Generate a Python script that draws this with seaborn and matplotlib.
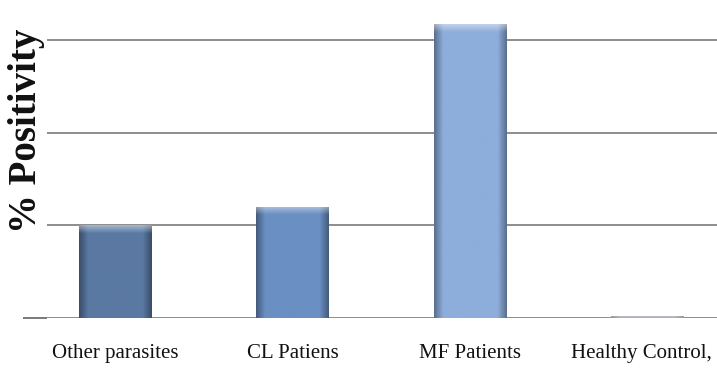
import numpy as np
import matplotlib
matplotlib.use("Agg")
import matplotlib.pyplot as plt
import matplotlib.colors as mcolors
import matplotlib.transforms as mtransforms
import seaborn as sns
import pandas as pd

# Percentage of positive samples per group
groups = ["Other parasites", "CL Patiens", "MF Patients", "Healthy Control,"]
positivity = [20, 24, 63.5, 0.4]
bar_colors = ["#5a79a2", "#6a8fc2", "#8daddb", "#7f8894"]
grid_levels = [0, 20, 40, 60]

sns.set_theme(style="white")
plt.rcParams["font.family"] = ["Liberation Serif", "DejaVu Serif"]

df = pd.DataFrame({"group": groups, "positivity": positivity})

fig = plt.figure(figsize=(7.17, 3.68), dpi=100)
ax = fig.add_axes([47 / 717, 50 / 368, 1 - 47 / 717, 318 / 368])

sns.barplot(data=df, x="group", y="positivity", hue="group",
            palette=bar_colors, legend=False, width=0.41, ax=ax,
            saturation=1, edgecolor="none", zorder=3)

# Soft bevel shading on each bar
for patch, col in zip(ax.patches, bar_colors):
    x0, y0 = patch.get_x(), patch.get_y()
    w, h = patch.get_width(), patch.get_height()
    if h <= 0:
        continue
    base = np.array(mcolors.to_rgb(col))
    nx, ny = 60, 120
    u = np.linspace(0, 1, nx)
    side = np.clip(1 - np.minimum(u, 1 - u) / 0.12, 0, 1)
    shade = 1 - 0.35 * side
    img = np.ones((ny, nx, 3)) * base
    img *= shade[None, :, None]
    # lighter rim at top
    v = np.linspace(0, 1, ny)
    top_px = 8 / (h / 68.5 * 318)
    topband = np.clip(1 - (1 - v) / max(top_px, 1e-3), 0, 1)
    img = img + (1 - img) * 0.45 * topband[:, None, None]
    img = np.clip(img, 0, 1)
    im = ax.imshow(img, extent=[x0, x0 + w, y0, y0 + h], origin="lower",
                   aspect="auto", zorder=4, interpolation="bilinear")
    im.set_clip_path(patch)

ax.set_xlim(-0.385, 3.39)
ax.set_ylim(0, 68.6)

ax.set_yticks(grid_levels)
ax.set_yticklabels([])
ax.yaxis.remove_overlapping_locs = False
ax.set_yticks([0], minor=True)
ax.tick_params(axis="y", which="major", length=0)
ax.tick_params(axis="y", which="minor", length=17, width=1.4, pad=2,
               color="#7a7a7a", left=True)
ax.yaxis.grid(True, color="#858585", linewidth=1.3, zorder=0)
ax.xaxis.grid(False)
ax.set_axisbelow(True)
for s in ax.spines.values():
    s.set_visible(False)

ax.tick_params(axis="x", length=0, pad=19, labelsize=15, labelcolor="#111111")
# keep the last category label inside the right edge
last = ax.get_xticklabels()[-1]
last.set_transform(last.get_transform() +
                   mtransforms.ScaledTranslation(-6 / 100, 0, fig.dpi_scale_trans))
ax.set_xlabel("")
ax.set_ylabel("% Positivity", fontsize=28, fontweight="bold", color="#111111")
ax.yaxis.set_label_coords(-0.003, 0.59)

fig.savefig("out.png", dpi=100)
